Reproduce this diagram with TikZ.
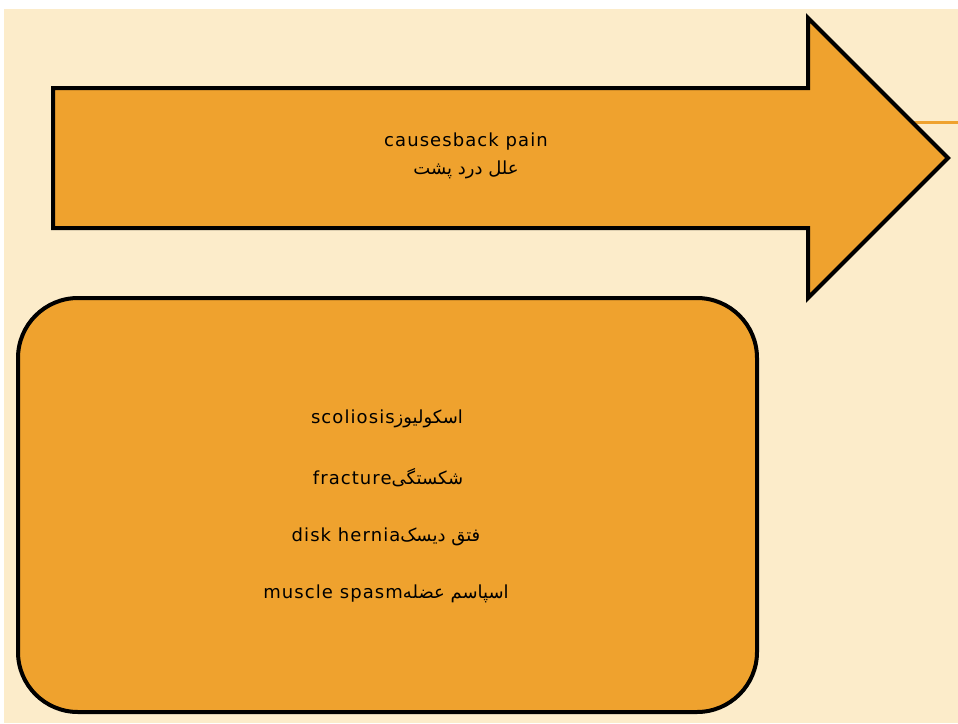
\documentclass[tikz,border=0pt]{standalone}
\usepackage{fontspec}
\setmainfont{DejaVu Sans}
\newfontfamily\arabicfont[Script=Arabic]{DejaVu Sans}
\newfontfamily\latinfont[LetterSpace=6]{DejaVu Sans}
\TeXXeTstate=1
\definecolor{bgcol}{HTML}{FCECCA}
\definecolor{orfill}{HTML}{EFA22E}
\begin{document}
\begin{tikzpicture}[x=1pt,y=-1pt,
  shapeline/.style={draw=black,line width=4pt,fill=orfill,line join=miter},
  lbl/.style={inner sep=0pt,font=\fontsize{18}{21}\selectfont,text=black}]
\useasboundingbox (0,0) rectangle (958,723);
\fill[white] (0,0) rectangle (958,723);
\fill[bgcol] (4,9) rectangle (958,723);
% thin orange connector on the right
\coordinate (lineend) at (958,122);
\coordinate (linestart) at (900,122);
\draw[orfill,line width=3pt] (linestart) -- (lineend);
% big arrow
\draw[shapeline] (53,88) -- (808,88) -- (808,18) -- (948,158) -- (808,298) -- (808,228) -- (53,228) -- cycle;
% rounded box
\draw[shapeline,rounded corners=60pt] (18,298) rectangle (757,712);
% texts
\node[lbl] (t1) at (466,142) {\latinfont causesback pain};
\node[lbl] (t2) at (466,170) {\arabicfont\beginR علل درد پشت\endR};
\node[lbl] (s1) at (387,419) {\latinfont scoliosis\arabicfont\beginR اسکولیوز\endR};
\node[lbl] (s2) at (388,478) {\latinfont fracture\arabicfont\beginR شکستگی\endR};
\node[lbl] (s3) at (386,537) {\latinfont disk hernia\arabicfont\beginR فتق دیسک\endR};
\node[lbl] (s4) at (386,594) {\latinfont muscle spasm\arabicfont\beginR اسپاسم عضله\endR};
\end{tikzpicture}
\end{document}
